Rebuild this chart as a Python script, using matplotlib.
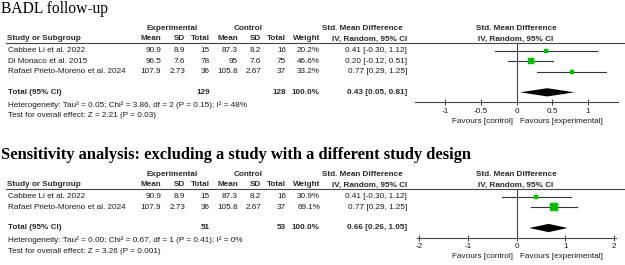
import matplotlib
matplotlib.use("Agg")
import matplotlib.pyplot as plt
from matplotlib.patches import Polygon

# ---------------- data ----------------
# Panel 1: BADL follow-up
p1_title = "BADL follow-up"
p1_studies = ["Cabbee Li et al. 2022", "Di Monaco et al. 2015", "Rafael Prieto-Moreno et al. 2024"]
p1_exp_mean = ["90.9", "96.5", "107.9"]
p1_exp_sd = ["8.9", "7.6", "2.73"]
p1_exp_n = [15, 78, 36]
p1_ctl_mean = ["87.3", "95", "105.8"]
p1_ctl_sd = ["8.2", "7.6", "2.67"]
p1_ctl_n = [16, 75, 37]
p1_weight = [20.2, 46.6, 33.2]
p1_smd = [0.41, 0.20, 0.77]
p1_lo = [-0.30, -0.12, 0.29]
p1_hi = [1.12, 0.51, 1.25]
p1_total = (0.43, 0.05, 0.81)
p1_tot_n = (129, 128)
p1_het = "Heterogeneity: Tau\u00b2 = 0.05; Chi\u00b2 = 3.86, df = 2 (P = 0.15); I\u00b2 = 48%"
p1_test = "Test for overall effect: Z = 2.21 (P = 0.03)"
p1_ticks = [-1, -0.5, 0, 0.5, 1]
p1_ticklabels = ["-1", "-0.5", "0", "0.5", "1"]
p1_xlim = (-1.42, 1.42)

# Panel 2: sensitivity analysis
p2_title = "Sensitivity analysis: excluding a study with a different study design"
p2_studies = ["Cabbee Li et al. 2022", "Rafael Prieto-Moreno et al. 2024"]
p2_exp_mean = ["90.9", "107.9"]
p2_exp_sd = ["8.9", "2.73"]
p2_exp_n = [15, 36]
p2_ctl_mean = ["87.3", "105.8"]
p2_ctl_sd = ["8.2", "2.67"]
p2_ctl_n = [16, 37]
p2_weight = [30.9, 69.1]
p2_smd = [0.41, 0.77]
p2_lo = [-0.30, 0.29]
p2_hi = [1.12, 1.25]
p2_total = (0.66, 0.26, 1.05)
p2_tot_n = (51, 53)
p2_het = "Heterogeneity: Tau\u00b2 = 0.00; Chi\u00b2 = 0.67, df = 1 (P = 0.41); I\u00b2 = 0%"
p2_test = "Test for overall effect: Z = 3.26 (P = 0.001)"
p2_ticks = [-2, -1, 0, 1, 2]
p2_ticklabels = ["-2", "-1", "0", "1", "2"]
p2_xlim = (-2.05, 2.05)

# ---------------- style ----------------
W, H = 625, 265
SANS = ["Liberation Sans", "DejaVu Sans"]
SERIF = ["Liberation Serif", "DejaVu Serif"]
TXT = "#1a1a1a"
HDR = "#2a2a2a"
FS = 5.9
GREEN = "#00c000"
ROW = 10.33

fig = plt.figure(figsize=(W / 100, H / 100), dpi=100)
bg = fig.add_axes([0, 0, 1, 1])
bg.set_xlim(0, W)
bg.set_ylim(H, 0)
bg.axis("off")


def t(x, y, s, ha="left", bold=False, **kw):
    bg.text(x, y, s, ha=ha, va="center", fontsize=kw.pop("fs", FS),
            fontweight="bold" if bold else "normal", family=kw.pop("family", SANS),
            color=kw.pop("color", HDR if bold else TXT), **kw)


def panel(top, title, title_fs, title_bold, studies, em, esd, en, cm, csd, cn, wt,
          smd, lo, hi, total, tot_n, het, test, ticks, ticklabels, xlim, zero_px, unit_px):
    # title
    t(1, top + 9, title, fs=title_fs, bold=title_bold, family=SERIF, color="black")
    h1 = top + 28
    h2 = top + 39
    line_y = top + 43
    y0 = top + 51
    # headers
    t(172, h1, "Experimental", ha="center", bold=True)
    t(248, h1, "Control", ha="center", bold=True)
    t(403, h1, "Std. Mean Difference", ha="right", bold=True)
    t(516, h1, "Std. Mean Difference", ha="center", bold=True)
    t(7, h2, "Study or Subgroup", bold=True)
    for x, s in [(161, "Mean"), (185, "SD"), (210, "Total"), (238, "Mean"),
                 (261, "SD"), (286, "Total"), (320, "Weight")]:
        t(x, h2, s, ha="right", bold=True)
    t(407, h2, "IV, Random, 95% CI", ha="right", bold=True)
    t(516, h2, "IV, Random, 95% CI", ha="center", bold=True)
    bg.plot([6, W], [line_y, line_y], color="#444444", lw=0.8)
    n = len(studies)
    for i in range(n):
        y = y0 + i * ROW
        t(8, y, studies[i])
        t(161, y, em[i], ha="right")
        t(185, y, esd[i], ha="right")
        t(210, y, str(en[i]), ha="right")
        t(238, y, cm[i], ha="right")
        t(261, y, csd[i], ha="right")
        t(286, y, str(cn[i]), ha="right")
        t(320, y, f"{wt[i]:.1f}%", ha="right")
        t(407, y, f"{smd[i]:.2f} [{lo[i]:.2f}, {hi[i]:.2f}]", ha="right")
    yt = y0 + (n + 1) * ROW
    t(8, yt, "Total (95% CI)", bold=True)
    t(210, yt, str(tot_n[0]), ha="right", bold=True)
    t(286, yt, str(tot_n[1]), ha="right", bold=True)
    t(320, yt, "100.0%", ha="right", bold=True)
    t(407, yt, f"{total[0]:.2f} [{total[1]:.2f}, {total[2]:.2f}]", ha="right", bold=True)
    t(8, yt + 12.5, het)
    t(8, yt + 23.5, test)

    # forest axes (data coordinates = SMD, row index)
    ytop, ybot = -0.77, n + 1.95
    left_px = zero_px + xlim[0] * unit_px
    right_px = zero_px + xlim[1] * unit_px
    top_px = y0 + ytop * ROW
    bot_px = y0 + ybot * ROW
    ax = fig.add_axes([left_px / W, 1 - bot_px / H, (right_px - left_px) / W, (bot_px - top_px) / H])
    ax.set_xlim(*xlim)
    ax.set_ylim(ybot, ytop)
    ax.patch.set_alpha(0)
    for s in ["top", "left", "right"]:
        ax.spines[s].set_visible(False)
    ax.spines["bottom"].set_color("#444444")
    ax.spines["bottom"].set_linewidth(0.8)
    ax.set_yticks([])
    ax.set_xticks(ticks)
    ax.set_xticklabels(ticklabels, family=SANS, fontsize=FS, color=TXT)
    ax.tick_params(axis="x", direction="inout", length=5, width=0.8, color="#444444", pad=1.5)
    ax.axvline(0, color="#444444", lw=0.8)
    for i in range(n):
        ax.plot([lo[i], hi[i]], [i, i], color="#333333", lw=0.8)
        ms = (1.0 + 0.1 * wt[i]) * 0.72
        ax.plot(smd[i], i, marker="s", ms=ms, color=GREEN, mec=GREEN, mew=0.3)
    dy = 0.4
    ax.add_patch(Polygon([[total[1], n + 1], [total[0], n + 1 - dy], [total[2], n + 1], [total[0], n + 1 + dy]],
                         closed=True, color="black", lw=0))
    fy = bot_px + 19
    t(zero_px - 4, fy, "Favours [control]", ha="right")
    t(zero_px + 3, fy, "Favours [experimental]", ha="left")


panel(0, p1_title, 11.2, False, p1_studies, p1_exp_mean, p1_exp_sd, p1_exp_n, p1_ctl_mean, p1_ctl_sd,
      p1_ctl_n, p1_weight, p1_smd, p1_lo, p1_hi, p1_total, p1_tot_n, p1_het, p1_test,
      p1_ticks, p1_ticklabels, p1_xlim, 516.5, 71.5)
panel(146, p2_title, 11.9, True, p2_studies, p2_exp_mean, p2_exp_sd, p2_exp_n, p2_ctl_mean, p2_ctl_sd,
      p2_ctl_n, p2_weight, p2_smd, p2_lo, p2_hi, p2_total, p2_tot_n, p2_het, p2_test,
      p2_ticks, p2_ticklabels, p2_xlim, 516.5, 48.7)

fig.savefig("out.png", dpi=100, facecolor="white")
